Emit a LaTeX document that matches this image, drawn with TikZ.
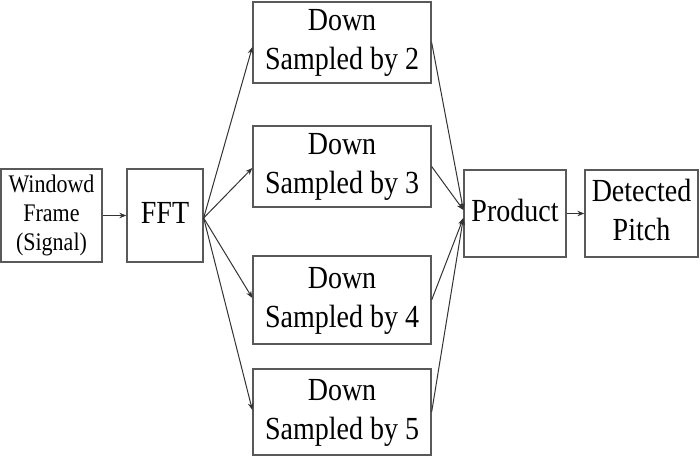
\documentclass[tikz,border=0pt]{standalone}
\usepackage{fontspec}
\usepackage{graphicx}
\setmainfont{Liberation Serif}
\usetikzlibrary{arrows.meta,calc}
\newcommand{\vstext}[1]{\scalebox{1}[1.15]{\begin{tabular}{@{}c@{}}#1\end{tabular}}}
\begin{document}
\begin{tikzpicture}[x=1pt,y=-1pt,
  box/.style={draw=black!65,line width=1.3pt,rectangle,align=center,inner sep=0pt,
    font=\fontsize{28}{34}\selectfont},
  conn/.style={draw=black!80,line width=1pt,-{Stealth[length=7pt,width=5.5pt]}}]
\useasboundingbox (0,0) rectangle (700,457);
\node[box,minimum width=101pt,minimum height=93pt,font=\fontsize{22}{25.5}\selectfont] (win) at (51.5,215.5) {\vstext{Windowd\\Frame\\(Signal)}};
\node[box,minimum width=76pt,minimum height=93pt] (fft) at (165,215.5) {\vstext{FFT}};
\node[box,minimum width=178pt,minimum height=81pt] (ds2) at (342,42.5) {\vstext{Down\\Sampled by 2}};
\node[box,minimum width=178pt,minimum height=81pt] (ds3) at (342,166.5) {\vstext{Down\\Sampled by 3}};
\node[box,minimum width=178pt,minimum height=88pt] (ds4) at (342,300) {\vstext{Down\\Sampled by 4}};
\node[box,minimum width=178pt,minimum height=86pt] (ds5) at (342,412) {\vstext{Down\\Sampled by 5}};
\node[box,minimum width=102pt,minimum height=87pt] (prod) at (515,213.5) {\vstext{Product}};
\node[box,minimum width=113pt,minimum height=87pt] (det) at (641.5,213.5) {\vstext{Detected\\Pitch}};
\coordinate (fo) at ($(fft.east)+(0,2.5)$);
\coordinate (pa) at ($(prod.west)+(0,-3.5)$);
\coordinate (pb) at ($(prod.west)+(0,4.5)$);
\draw[conn] (win) -- (fft);
\draw[conn] (fo) -- ($(ds2.west)+(0,4.5)$);
\draw[conn] (fo) -- ($(ds3.west)+(0,1.5)$);
\draw[conn] (fo) -- ($(ds4.west)+(0,-2)$);
\draw[conn] (fo) -- ($(ds5.west)+(0,-2)$);
\draw[conn] (ds2.east) -- (pa);
\draw[conn] (ds3.east) -- (pa);
\draw[conn] (ds4.east) -- (pb);
\draw[conn] (ds5.east) -- (pb);
\draw[conn] (prod) -- (det);
\end{tikzpicture}
\end{document}
